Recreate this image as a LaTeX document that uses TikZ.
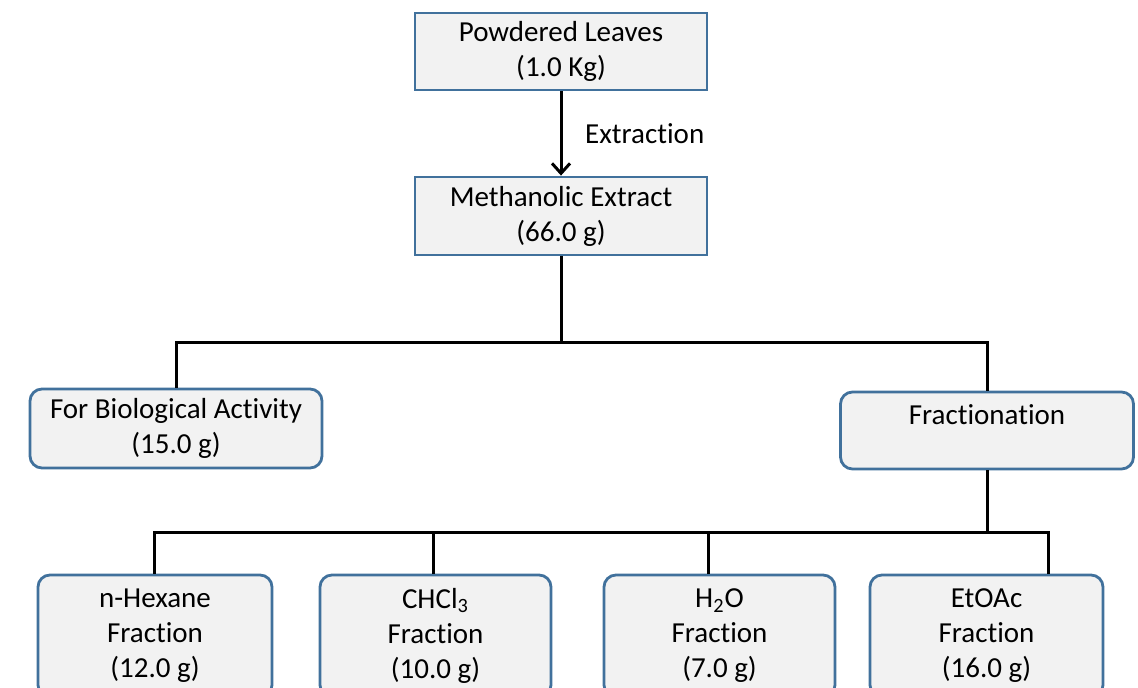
\documentclass[tikz,border=0pt]{standalone}
\usepackage{fontspec}
\setmainfont[Ligatures=NoCommon]{Carlito}
\usetikzlibrary{arrows.meta}
\definecolor{boxblue}{HTML}{41719C}
\definecolor{boxfill}{HTML}{F2F2F2}

\begin{document}
\begin{tikzpicture}[x=0.5pt, y=-0.5pt,
    box/.style={draw=boxblue, fill=boxfill, line width=1.4pt, inner sep=0pt,
      align=center, font=\fontsize{14.5}{17.5}\selectfont},
    rbox/.style={box, rounded corners=6pt},
    link/.style={line width=1.5pt}]
    \useasboundingbox (0,0) rectangle (1138,688);

    % ノードの定義
    \node[box, minimum width=146pt, minimum height=38.5pt] (pl) at (561, 51.5) {Powdered Leaves\\(1.0 Kg)};
    \node[box, minimum width=146pt, minimum height=39pt] (me) at (561, 216) {Methanolic Extract\\(66.0 g)};
    \node[rbox, minimum width=146pt, minimum height=39.5pt] (bio) at (176, 428.5) {For Biological Activity\\(15.0 g)};
    \node[rbox, minimum width=146.5pt, minimum height=38.5pt] (frac) at (987, 430.5) {Fractionation\\[-4pt]\phantom{(0)}};
    \node[rbox, minimum width=117pt, minimum height=61pt] (hex) at (155, 636) {n-Hexane\\Fraction\\(12.0 g)};
    \node[rbox, minimum width=115.5pt, minimum height=61pt] (chl) at (435.5, 636) {CHCl\textsubscript{3}\\Fraction\\(10.0 g)};
    \node[rbox, minimum width=115.5pt, minimum height=61pt] (wat) at (719.5, 636) {H\textsubscript{2}O\\Fraction\\(7.0 g)};
    \node[rbox, minimum width=116.5pt, minimum height=61pt] (eto) at (986.5, 636) {EtOAc\\Fraction\\(16.0 g)};

    % 分岐点
    \coordinate (j1) at (561, 343);
    \coordinate (j2) at (987, 532);
    \coordinate (b1) at (154, 532);
    \coordinate (b2) at (433, 532);
    \coordinate (b3) at (708, 532);
    \coordinate (b4) at (1048, 532);

    % エッジを引く
    \draw[-{Straight Barb[length=5pt, width=9pt]}, link] (pl) -- node[right, font=\fontsize{14.5}{17.5}\selectfont, xshift=8pt] {Extraction} (me);
    \draw[link] (me.south) -- (j1);
    \draw[link] (bio.north) |- (j1) -| (frac.north);
    \draw[link] (frac.south) -- (j2);
    \draw[link] (b1 |- hex.north) -- (b1) -- (b4) -- (b4 |- eto.north);
    \draw[link] (b2) -- (b2 |- chl.north);
    \draw[link] (b3) -- (b3 |- wat.north);

  \end{tikzpicture}
\end{document}
